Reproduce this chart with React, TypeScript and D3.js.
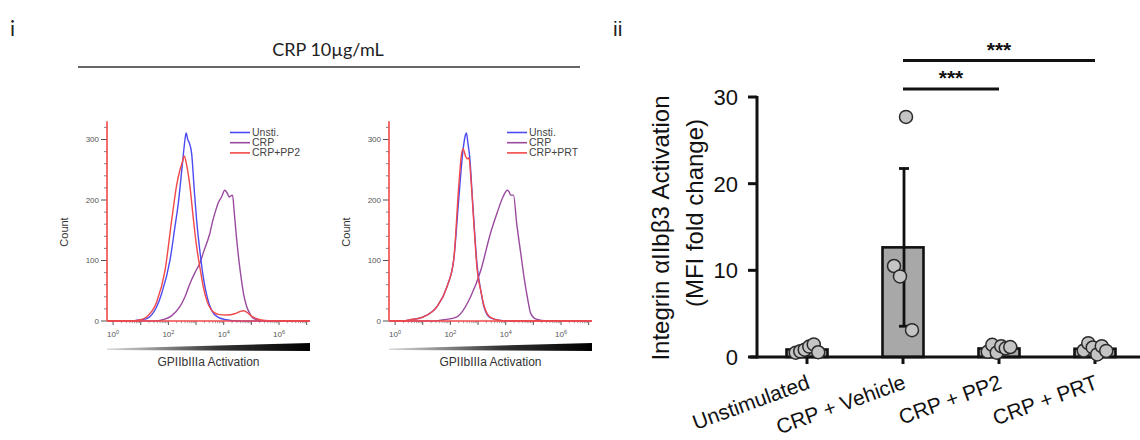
import React from "react";
import * as d3 from "d3";

// ---------- Panel ii: bar chart data ----------
const CATEGORIES = ["Unstimulated", "CRP + Vehicle", "CRP + PP2", "CRP + PRT"];
const UNSTIM_POINTS = [0.5, 0.65, 0.85, 1.2, 1.45, 0.55];
const VEHICLE_POINTS = [10.5, 9.3, 27.7, 3.1];
const PP2_POINTS = [0.6, 1.4, 0.5, 1.25, 1.0, 1.15];
const PRT_POINTS = [0.75, 1.6, 1.1, 0.3, 1.25, 0.7];
const ERROR_VALUES = [0, 9.1, 0, 0];
const BAR_TICKS = [0, 10, 20, 30];
const SIG_PAIRS = [
  { from: "CRP + Vehicle", to: "CRP + PRT", label: "***" },
  { from: "CRP + Vehicle", to: "CRP + PP2", label: "***" },
];

// ---------- Panel i: histogram data ([log10 fluorescence, count]) ----------
const HIST_DECADE_LABELS = [0, 2, 4, 6];
const COUNT_TICKS = [0, 100, 200, 300];
const LEGEND_PP2 = ["Unsti.", "CRP", "CRP+PP2"];
const LEGEND_PRT = ["Unsti.", "CRP", "CRP+PRT"];

const PP2_UNSTI = [
  [-0.2, 0], [0.6, 0], [1.0, 2], [1.22, 4], [1.58, 24], [1.76, 46], [2.06, 101], [2.25, 160],
  [2.36, 195], [2.52, 266], [2.6, 300], [2.64, 311], [2.7, 300], [2.75, 295], [2.84, 277],
  [2.93, 220], [3.02, 167], [3.14, 115], [3.26, 73], [3.4, 40], [3.56, 18], [3.8, 6],
  [4.1, 2], [4.5, 0], [7.1, 0],
];
const PP2_CRP = [
  [-0.2, 0], [1.5, 0], [1.8, 2], [2.1, 8], [2.42, 24], [2.6, 40], [2.78, 62], [2.96, 80],
  [3.14, 96], [3.3, 118], [3.5, 145], [3.6, 165], [3.68, 178], [3.8, 195], [3.92, 205],
  [4.04, 216], [4.12, 212], [4.2, 205], [4.26, 207], [4.32, 208], [4.38, 180], [4.46, 139],
  [4.55, 100], [4.64, 68], [4.73, 42], [4.83, 24], [4.95, 12], [5.05, 5], [5.3, 1],
  [5.6, 0], [7.1, 0],
];
const PP2_TREATED = [
  [-0.2, 0], [0.6, 0], [1.0, 2], [1.22, 7], [1.58, 32], [1.88, 84], [2.12, 167], [2.3, 225],
  [2.42, 250], [2.52, 265], [2.57, 273], [2.65, 260], [2.78, 222], [2.9, 170], [3.02, 123],
  [3.14, 88], [3.26, 57], [3.4, 32], [3.56, 18], [3.8, 11], [4.1, 10], [4.4, 12], [4.6, 16],
  [4.72, 17], [4.85, 14], [5.0, 8], [5.2, 4], [5.5, 1], [6.0, 0], [7.1, 0],
];

const PRT_UNSTI = [
  [-0.2, 0], [0.3, 0], [0.55, 2], [1.03, 7], [1.52, 24], [1.88, 57], [2.12, 101], [2.3, 200],
  [2.45, 280], [2.53, 305], [2.58, 311], [2.63, 295], [2.7, 270], [2.8, 200], [2.97, 90],
  [3.1, 50], [3.21, 24], [3.45, 5], [3.8, 1], [4.2, 0], [7.1, 0],
];
const PRT_CRP = [
  [-0.2, 0], [1.4, 0], [1.76, 2], [2.24, 7], [2.73, 40], [3.1, 84], [3.45, 145], [3.7, 180],
  [3.9, 205], [4.06, 216], [4.12, 214], [4.18, 208], [4.28, 208], [4.4, 160], [4.55, 110],
  [4.67, 70], [4.8, 35], [4.9, 13], [5.1, 3], [5.5, 0], [7.1, 0],
];
const PRT_TREATED = [
  [-0.2, 0], [0.3, 0], [0.55, 2], [1.03, 7], [1.52, 24], [1.88, 57], [2.12, 101], [2.3, 222],
  [2.4, 275], [2.46, 285], [2.55, 272], [2.62, 268], [2.67, 270], [2.75, 230], [2.85, 160],
  [2.97, 84], [3.1, 50], [3.21, 26], [3.45, 6], [3.8, 1], [4.2, 0], [7.1, 0],
];

const BLUE = "#4b4bf2";
const PURPLE = "#9a4a9e";
const RED = "#f24848";
const SANS = "'Liberation Sans', Arial, sans-serif";

type Pt = number[];

function Histogram(props: {
  dx: number;
  legendDx: number;
  unsti: Pt[];
  crp: Pt[];
  treated: Pt[];
  legend: string[];
  gradId: string;
}) {
  const { dx, legendDx, unsti, crp, treated, legend, gradId } = props;
  const x = d3.scaleLinear().domain([-0.22, 7.12]).range([107 + dx, 310 + dx]);
  const y = d3.scaleLinear().domain([0, 330]).range([321, 121.35]);
  const line = d3
    .line<Pt>()
    .x((d) => x(d[0]))
    .y((d) => y(d[1]))
    .curve(d3.curveMonotoneX);

  const minorCounts = d3.range(0, 321, 20).filter((v) => v % 100 !== 0);
  const decades = d3.range(0, 8);
  const minorLogs: number[] = [];
  decades.forEach((dec) => {
    for (let k = 2; k <= 9; k++) {
      const v = dec + Math.log10(k);
      if (v <= 7.1) minorLogs.push(v);
    }
  });
  const x0 = x.range()[0];
  const x1 = x.range()[1];
  const colors = [BLUE, PURPLE, RED];

  return (
    <g>
      {/* y axis ticks */}
      {COUNT_TICKS.map((t) => (
        <g key={"yt" + t}>
          <line x1={x0 - 6} x2={x0} y1={y(t)} y2={y(t)} stroke="#555" strokeWidth={1} />
          <text x={x0 - 8} y={y(t) + 2.8} textAnchor="end" fontSize={8} fill="#555" fontFamily={SANS}>
            {t}
          </text>
        </g>
      ))}
      {minorCounts.map((t) => (
        <line key={"ym" + t} x1={x0 - 3} x2={x0} y1={y(t)} y2={y(t)} stroke="#666" strokeWidth={0.8} />
      ))}
      <text
        transform={`translate(${x0 - 39},${232}) rotate(-90)`}
        textAnchor="middle"
        fontSize={11}
        fill="#333"
        fontFamily={SANS}
      >
        Count
      </text>

      {/* x axis ticks */}
      {decades.map((dec) => (
        <line key={"xd" + dec} x1={x(dec)} x2={x(dec)} y1={y(0)} y2={y(0) + 4} stroke="#555" strokeWidth={1} />
      ))}
      {minorLogs.map((v, i) => (
        <line key={"xm" + i} x1={x(v)} x2={x(v)} y1={y(0)} y2={y(0) + 2.2} stroke="#777" strokeWidth={0.7} />
      ))}
      {HIST_DECADE_LABELS.map((dec) => (
        <text key={"xl" + dec} x={x(dec)} y={y(0) + 16} textAnchor="middle" fontSize={8} fill="#555" fontFamily={SANS}>
          10
          <tspan dy={-3} fontSize={5.5}>
            {dec}
          </tspan>
        </text>
      ))}

      {/* intensity wedge and axis title */}
      <path
        d={`M${x0},${348.5} L${x1},${343} L${x1},${351} L${x0},${350} Z`}
        fill={`url(#${gradId})`}
      />
      <text
        x={(x0 + x1) / 2}
        y={366}
        textAnchor="middle"
        fontSize={12}
        fill="#333"
        fontFamily={SANS}
      >
        GPIIbIIIa Activation
      </text>

      {/* histogram overlays */}
      <path d={line(crp) || ""} fill="none" stroke={PURPLE} strokeWidth={1.4} />
      <path d={line(unsti) || ""} fill="none" stroke={BLUE} strokeWidth={1.4} />
      <path d={line(treated) || ""} fill="none" stroke={RED} strokeWidth={1.4} />

      {/* axis lines */}
      <line x1={x0} x2={x0} y1={y(0)} y2={y(330)} stroke={RED} strokeWidth={1.6} />
      <line x1={x0} x2={x1} y1={y(0)} y2={y(0)} stroke={RED} strokeWidth={1.3} />

      {/* legend */}
      {legend.map((name, i) => (
        <g key={"lg" + name}>
          <line
            x1={230 + legendDx}
            x2={250 + legendDx}
            y1={132.5 + i * 10.2}
            y2={132.5 + i * 10.2}
            stroke={colors[i]}
            strokeWidth={1.6}
          />
          <text x={252 + legendDx} y={136 + i * 10.2} fontSize={10.5} fill="#444" fontFamily={SANS}>
            {name}
          </text>
        </g>
      ))}
    </g>
  );
}

function BarPanel() {
  const groups = [UNSTIM_POINTS, VEHICLE_POINTS, PP2_POINTS, PRT_POINTS];
  const x = d3.scalePoint<string>().domain(CATEGORIES).range([807, 1095]);
  const y = d3.scaleLinear().domain([0, 30]).range([357, 97]);
  const barW = 41;
  const means = groups.map((g) => d3.mean(g) as number);
  const axisX = 757;

  return (
    <g fontFamily={SANS}>
      <text x={613} y={36} fontSize={21} fill="#222">
        ii
      </text>

      {/* bars */}
      {CATEGORIES.map((c, i) => (
        <rect
          key={"bar" + c}
          x={(x(c) as number) - barW / 2}
          y={y(means[i])}
          width={barW}
          height={y(0) - y(means[i])}
          fill="#a8a8a8"
          stroke="#111"
          strokeWidth={2.6}
        />
      ))}

      {/* error bars */}
      {CATEGORIES.map((c, i) => {
        const e = ERROR_VALUES[i];
        if (!e) return null;
        const cx = (x(c) as number) + 1;
        return (
          <g key={"err" + c} stroke="#111" strokeWidth={2.8}>
            <line x1={cx} x2={cx} y1={y(means[i] + e)} y2={y(means[i] - e)} />
            <line x1={cx - 5} x2={cx + 5} y1={y(means[i] + e)} y2={y(means[i] + e)} />
            <line x1={cx - 5} x2={cx + 5} y1={y(means[i] - e)} y2={y(means[i] - e)} />
          </g>
        );
      })}

      {/* axes */}
      <line x1={axisX} x2={axisX} y1={y(30) - 1} y2={y(0) + 1.5} stroke="#111" strokeWidth={3} />
      <line x1={axisX - 7} x2={1140} y1={y(0)} y2={y(0)} stroke="#111" strokeWidth={3} />
      {BAR_TICKS.map((t) => (
        <g key={"bt" + t}>
          <line x1={axisX - 9} x2={axisX} y1={y(t)} y2={y(t)} stroke="#111" strokeWidth={3} />
          <text x={axisX - 19} y={y(t) + 8} textAnchor="end" fontSize={22} fill="#111">
            {t}
          </text>
        </g>
      ))}
      {CATEGORIES.map((c) => (
        <line
          key={"xt" + c}
          x1={x(c) as number}
          x2={x(c) as number}
          y1={y(0)}
          y2={y(0) + 7}
          stroke="#111"
          strokeWidth={3}
        />
      ))}

      {/* points */}
      {groups.map((g, gi) =>
        g.map((v, i) => {
          const step = g.length > 4 ? 4.5 : 6;
          const off = (i - (g.length - 1) / 2) * step;
          return (
            <circle
              key={"pt" + gi + "-" + i}
              cx={(x(CATEGORIES[gi]) as number) + off}
              cy={y(v)}
              r={6.5}
              fill="#c4c4c4"
              stroke="#2a2a2a"
              strokeWidth={1.5}
            />
          );
        })
      )}

      {/* category labels */}
      {CATEGORIES.map((c) => (
        <text
          key={"xl" + c}
          transform={`translate(${(x(c) as number) + 4},${388}) rotate(-20)`}
          textAnchor="end"
          fontSize={21}
          fill="#111"
        >
          {c}
        </text>
      ))}

      {/* y axis title */}
      <text
        transform={`translate(${669},${228}) rotate(-90)`}
        textAnchor="middle"
        fontSize={24}
        fill="#111"
      >
        Integrin αIIbβ3 Activation
      </text>
      <text
        transform={`translate(${703},${213}) rotate(-90)`}
        textAnchor="middle"
        fontSize={24}
        fill="#111"
      >
        (MFI fold change)
      </text>

      {/* significance brackets */}
      {SIG_PAIRS.map((s, i) => {
        const xa = x(s.from) as number;
        const xb = x(s.to) as number;
        const ly = i === 0 ? 60.5 : 89;
        return (
          <g key={"sig" + i}>
            <line x1={xa} x2={xb} y1={ly} y2={ly} stroke="#111" strokeWidth={3.2} />
            <text
              x={(xa + xb) / 2}
              y={ly - 4}
              textAnchor="middle"
              fontSize={21}
              fontWeight="bold"
              fill="#111"
            >
              {s.label}
            </text>
          </g>
        );
      })}
    </g>
  );
}

export default function App() {
  return (
    <svg
      width={1140}
      height={440}
      viewBox="0 0 1140 440"
      style={{ position: "absolute", left: 0, top: 0, background: "#fff" }}
    >
      <defs>
        <linearGradient id="wedgeA" x1="0" x2="1" y1="0" y2="0">
          <stop offset="0" stopColor="#dcdcdc" />
          <stop offset="0.55" stopColor="#333" />
          <stop offset="1" stopColor="#000" />
        </linearGradient>
        <linearGradient id="wedgeB" x1="0" x2="1" y1="0" y2="0">
          <stop offset="0" stopColor="#dcdcdc" />
          <stop offset="0.55" stopColor="#333" />
          <stop offset="1" stopColor="#000" />
        </linearGradient>
      </defs>
      <rect x={0} y={0} width={1140} height={440} fill="#fff" />

      {/* Panel i */}
      <text x={10} y={36} fontSize={21} fill="#222" fontFamily="Lato, 'Open Sans', sans-serif">
        i
      </text>
      <text
        x={328}
        y={56}
        textAnchor="middle"
        fontSize={18}
        fill="#222"
        fontFamily="Lato, 'Open Sans', sans-serif"
      >
        CRP 10µg/mL
      </text>
      <line x1={78} x2={580} y1={67} y2={67} stroke="#333" strokeWidth={1.5} />

      <Histogram dx={0} legendDx={0} unsti={PP2_UNSTI} crp={PP2_CRP} treated={PP2_TREATED} legend={LEGEND_PP2} gradId="wedgeA" />
      <Histogram dx={282} legendDx={277} unsti={PRT_UNSTI} crp={PRT_CRP} treated={PRT_TREATED} legend={LEGEND_PRT} gradId="wedgeB" />

      {/* Panel ii */}
      <BarPanel />
    </svg>
  );
}
